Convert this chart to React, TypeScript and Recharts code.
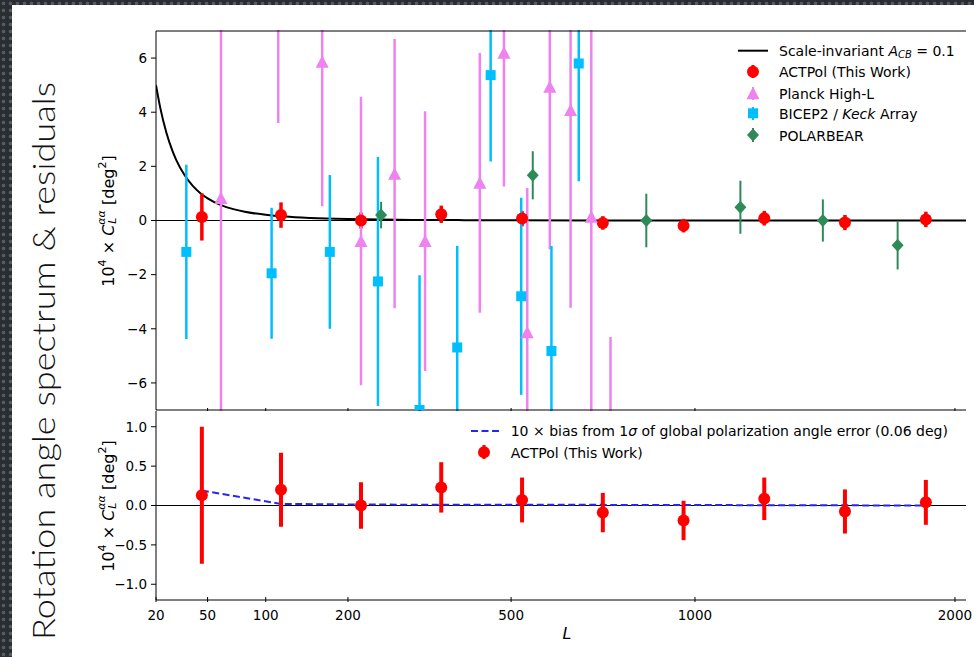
import React from 'react';
import { ComposedChart, Scatter, Line, XAxis, YAxis, ErrorBar, ReferenceLine } from 'recharts';

// ---------- data ----------
const xDomain = [20, 2050];
const xTickValues = [20, 50, 100, 200, 500, 1000, 2000];
const topYTicks = [-6, -4, -2, 0, 2, 4, 6];
const bottomYTicks = [-1, -0.5, 0, 0.5, 1];

const actpolL = [46, 116, 219, 355, 525, 728, 964, 1233, 1535, 1871];
const actpolV = [0.13, 0.2, 0.0, 0.23, 0.07, -0.09, -0.19, 0.085, -0.076, 0.04];
const actpolErr = [0.87, 0.47, 0.295, 0.32, 0.285, 0.25, 0.25, 0.27, 0.28, 0.285];

const planckL = [60, 113, 165, 219, 272, 325, 432, 484, 537, 591, 643, 697, 749];
const planckV = [0.83, 10.0, 5.86, -0.76, 1.73, -0.76, 1.39, 6.2, -4.13, 4.94, 4.08, 0.14, -10.0];
const planckErr = [9.5, 6.4, 5.33, 5.33, 4.97, 4.8, 4.8, 4.94, 5.33, 6.0, 7.3, 9.0, 5.7];

const bicepL = [36, 106, 175, 245, 315, 386, 455, 523, 595, 664];
const bicepV = [-1.16, -1.95, -1.16, -2.25, -7.0, -4.69, 5.37, -2.8, -4.82, 5.8];
const bicepErr = [3.22, 2.42, 2.84, 4.6, 4.98, 3.75, 3.19, 3.64, 3.88, 4.35];

const polarbearL = [250, 550, 851, 1150, 1449, 1750];
const polarbearV = [0.2, 1.67, 0.0, 0.49, 0.0, -0.91];
const polarbearErr = [0.49, 0.89, 0.99, 0.98, 0.78, 0.9];

const curveL = [20, 22, 25, 28, 30, 35, 40, 45, 50, 60, 70, 80, 100, 120, 150, 200, 250, 300, 400, 500, 700, 1000, 1500, 2050];
const curveV = [5.0, 4.15, 3.23, 2.59, 2.26, 1.67, 1.28, 1.01, 0.82, 0.57, 0.42, 0.32, 0.21, 0.145, 0.093, 0.052, 0.033, 0.023, 0.013, 0.008, 0.004, 0.002, 0.001, 0.0005];

const biasV = [0.19, 0.02, 0.012, 0.01, 0.01, 0.008, 0.006, 0.004, 0.002, 0.0];

// ---------- derived tables ----------
const zip = (L: number[], V: number[], E?: number[]) =>
  L.map((l, i) => ({ L: l, v: V[i], e: E ? E[i] : 0 }));
const actpol = zip(actpolL, actpolV, actpolErr);
const planck = zip(planckL, planckV, planckErr);
const bicep = zip(bicepL, bicepV, bicepErr);
const polarbear = zip(polarbearL, polarbearV, polarbearErr);
const curve = zip(curveL, curveV);
const bias = zip(actpolL, biasV);

// ---------- styles ----------
const FONT = '"DejaVu Sans", sans-serif';
const RED = '#ff0000';
const VIOLET = '#ee82ee';
const SKY = '#00bfff';
const GREEN = '#2e8b57';
const BLUE = '#2626f0';

const minus = (v: number) => (v < 0 ? '\u2212' + Math.abs(v) : String(v));
const minus1 = (v: number) => (v < 0 ? '\u2212' + Math.abs(v).toFixed(1) : v.toFixed(1));

// ---------- shapes ----------
const Circle = (color: string, r: number) => (p: any) =>
  p.cx == null ? null : <circle cx={p.cx} cy={p.cy} r={r} fill={color} />;
const Tri = (p: any) =>
  p.cx == null ? null : (
    <polygon points={`${p.cx},${p.cy - 6.5} ${p.cx - 6.5},${p.cy + 6} ${p.cx + 6.5},${p.cy + 6}`} fill={VIOLET} />
  );
const Sq = (p: any) =>
  p.cx == null ? null : <rect x={p.cx - 5} y={p.cy - 5} width={10} height={10} fill={SKY} />;
const Dia = (p: any) =>
  p.cx == null ? null : (
    <polygon points={`${p.cx},${p.cy - 6.5} ${p.cx + 6},${p.cy} ${p.cx},${p.cy + 6.5} ${p.cx - 6},${p.cy}`} fill={GREEN} />
  );

// ---------- ticks ----------
const UpTick = (p: any) => (
  <line x1={p.x} x2={p.x} y1={p.y - 4} y2={p.y} stroke="#000" strokeWidth={1} />
);
const DownTick = (p: any) => (
  <line x1={p.x} x2={p.x} y1={p.y} y2={p.y + 4} stroke="#000" strokeWidth={1} />
);
const BottomTick = (p: any) => (
  <g>
    <line x1={p.x} x2={p.x} y1={p.y} y2={p.y - 5} stroke="#000" strokeWidth={1} />
    <text x={p.x} y={p.y + 18} textAnchor="middle" fontSize={13.5} fontFamily={FONT} fill="#000">
      {p.payload.value}
    </text>
  </g>
);

const tickStyle = { fontSize: 13.5, fontFamily: FONT, fill: '#000' };

const YLabel = ({ cx, cy }: { cx: number; cy: number }) => (
  <text
    x={cx}
    y={cy}
    transform={`rotate(-90 ${cx} ${cy})`}
    textAnchor="middle"
    dominantBaseline="central"
    fontSize={16}
    fontFamily={FONT}
    fill="#000"
  >
    10
    <tspan fontSize={11} dy={-6}>4</tspan>
    <tspan dy={6}> × </tspan>
    <tspan fontStyle="italic">C</tspan>
    <tspan fontStyle="italic" fontSize={11} dy={-7}>αα</tspan>
    <tspan fontStyle="italic" fontSize={11} dx={-13.5} dy={11}>L</tspan>
    <tspan dx={7.5} dy={-4}> [deg</tspan>
    <tspan fontSize={11} dy={-6}>2</tspan>
    <tspan dy={6}>]</tspan>
  </text>
);

export default function App() {
  return (
    <div style={{ position: 'absolute', left: 0, top: 0, width: 974, height: 657, overflow: 'hidden',
      backgroundColor: '#2a2e33',
      backgroundImage: 'radial-gradient(circle, #555a61 1.5px, rgba(0,0,0,0) 2.2px)',
      backgroundSize: '7px 7px' }}>
      <div style={{ position: 'absolute', left: 12, top: 5, width: 962, height: 652, background: '#fff' }} />

      {/* top panel (clipped to its frame vertically) */}
      <div style={{ position: 'absolute', left: 0, top: 30, width: 974, height: 381, overflow: 'hidden' }}>
        <div style={{ position: 'absolute', left: 0, top: -30 }}>
          <ComposedChart width={974} height={420} margin={{ top: 30, right: 8, bottom: 0, left: 0 }}>
            <XAxis xAxisId="x" dataKey="L" type="number" scale="sqrt" domain={xDomain} allowDataOverflow
              ticks={xTickValues.slice(1)} interval={0} height={10} tickSize={0} tickLine={false}
              axisLine={{ stroke: '#000' }} tick={UpTick} />
            <XAxis xAxisId="xt" orientation="top" type="number" scale="sqrt" domain={xDomain} allowDataOverflow
              height={1} tick={false} tickLine={false} axisLine={{ stroke: '#000' }} />
            <YAxis yAxisId="y" width={156} type="number" domain={[-7, 7]} allowDataOverflow ticks={topYTicks}
              interval={0} tickSize={5} tickMargin={4} tick={tickStyle} tickFormatter={minus}
              axisLine={{ stroke: '#000' }} tickLine={{ stroke: '#000' }} />
            <YAxis yAxisId="yr" orientation="right" width={0} type="number" domain={[-7, 7]} allowDataOverflow
              tick={false} tickLine={false} axisLine={{ stroke: '#000' }} />
            <ReferenceLine xAxisId="x" yAxisId="y" y={0} stroke="#000" strokeWidth={1.2} />
            <Line xAxisId="x" yAxisId="y" data={curve} dataKey="v" type="monotone" stroke="#000" strokeWidth={2}
              dot={false} isAnimationActive={false} />
            <Scatter xAxisId="x" yAxisId="y" data={actpol} dataKey="v" shape={Circle(RED, 6)} isAnimationActive={false}>
              <ErrorBar dataKey="e" direction="y" width={0} stroke={RED} strokeWidth={3.5} />
            </Scatter>
            <Scatter xAxisId="x" yAxisId="y" data={planck} dataKey="v" shape={Tri} isAnimationActive={false}>
              <ErrorBar dataKey="e" direction="y" width={0} stroke={VIOLET} strokeWidth={2.5} />
            </Scatter>
            <Scatter xAxisId="x" yAxisId="y" data={bicep} dataKey="v" shape={Sq} isAnimationActive={false}>
              <ErrorBar dataKey="e" direction="y" width={0} stroke={SKY} strokeWidth={2.5} />
            </Scatter>
            <Scatter xAxisId="x" yAxisId="y" data={polarbear} dataKey="v" shape={Dia} isAnimationActive={false}>
              <ErrorBar dataKey="e" direction="y" width={0} stroke={GREEN} strokeWidth={2} />
            </Scatter>
          </ComposedChart>
        </div>
      </div>

      {/* bottom panel */}
      <div style={{ position: 'absolute', left: 0, top: 405 }}>
        <ComposedChart width={974} height={252} margin={{ top: 5, right: 8, bottom: 27, left: 0 }}>
          <XAxis xAxisId="x" dataKey="L" type="number" scale="sqrt" domain={xDomain} allowDataOverflow
            ticks={xTickValues} interval={0} height={30} tickSize={0} tickLine={false}
            axisLine={{ stroke: '#000' }} tick={BottomTick} />
          <XAxis xAxisId="xt" orientation="top" type="number" scale="sqrt" domain={xDomain} allowDataOverflow
            ticks={xTickValues.slice(1)} interval={0} height={1} tickSize={0} tickLine={false}
            axisLine={false} tick={DownTick} />
          <YAxis yAxisId="y" width={156} type="number" domain={[-1.2, 1.2]} allowDataOverflow ticks={bottomYTicks}
            interval={0} tickSize={5} tickMargin={4} tick={tickStyle} tickFormatter={minus1}
            axisLine={{ stroke: '#000' }} tickLine={{ stroke: '#000' }} />
          <YAxis yAxisId="yr" orientation="right" width={0} type="number" domain={[-1.2, 1.2]} allowDataOverflow
            tick={false} tickLine={false} axisLine={{ stroke: '#000' }} />
          <ReferenceLine xAxisId="x" yAxisId="y" y={0} stroke="#000" strokeWidth={1} />
          <Line xAxisId="x" yAxisId="y" data={bias} dataKey="v" type="linear" stroke={BLUE} strokeWidth={2}
            strokeDasharray="7 3.5" dot={false} isAnimationActive={false} />
          <Scatter xAxisId="x" yAxisId="y" data={actpol} dataKey="v" shape={Circle(RED, 6)} isAnimationActive={false}>
            <ErrorBar dataKey="e" direction="y" width={0} stroke={RED} strokeWidth={4} />
          </Scatter>
        </ComposedChart>
      </div>

      {/* texts, labels and legends */}
      <svg width={974} height={657} style={{ position: 'absolute', left: 0, top: 0, pointerEvents: 'none' }}>
        <text x={42} y={361} transform="rotate(-90 42 361)" textAnchor="middle" dominantBaseline="central"
          fontSize={32} fontFamily='Lato, "Noto Sans", sans-serif' fontWeight={300} fill="#111"
          textLength={558} lengthAdjust="spacingAndGlyphs">
          Rotation angle spectrum &amp; residuals
        </text>
        <YLabel cx={108} cy={221} />
        <YLabel cx={108} cy={506} />
        <text x={567} y={639} textAnchor="middle" fontSize={16} fontStyle="italic" fontFamily={FONT} fill="#000">L</text>

        {/* top legend */}
        <g fontFamily={FONT} fontSize={14} fill="#000">
          <line x1={738} x2={768} y1={50.7} y2={50.7} stroke="#000" strokeWidth={2} />
          <text x={779} y={51} dominantBaseline="central">
            Scale-invariant <tspan fontStyle="italic">A</tspan>
            <tspan fontStyle="italic" fontSize={10} dy={3}>CB</tspan>
            <tspan dy={-3}> = 0.1</tspan>
          </text>
          <line x1={753} x2={753} y1={65} y2={78} stroke={RED} strokeWidth={3} />
          <circle cx={753} cy={71.7} r={6} fill={RED} />
          <text x={779} y={72} dominantBaseline="central">ACTPol (This Work)</text>
          <line x1={753} x2={753} y1={87} y2={100} stroke={VIOLET} strokeWidth={2} />
          <polygon points="753,86.8 746.5,99.3 759.5,99.3" fill={VIOLET} />
          <text x={779} y={93.5} dominantBaseline="central">Planck High-L</text>
          <line x1={753} x2={753} y1={107} y2={120} stroke={SKY} strokeWidth={2} />
          <rect x={748} y={108.3} width={10} height={10} fill={SKY} />
          <text x={779} y={113.8} dominantBaseline="central">
            BICEP2 / <tspan fontStyle="italic">Keck</tspan> Array
          </text>
          <line x1={753} x2={753} y1={128} y2={142} stroke={GREEN} strokeWidth={2} />
          <polygon points="753,128.5 759,135 753,141.5 747,135" fill={GREEN} />
          <text x={779} y={135.5} dominantBaseline="central">POLARBEAR</text>
        </g>

        {/* bottom legend */}
        <g fontFamily={FONT} fontSize={14} fill="#000">
          <line x1={471} x2={499} y1={431} y2={431} stroke={BLUE} strokeWidth={2} strokeDasharray="7 3.5" />
          <text x={510.7} y={431} dominantBaseline="central">
            10 ×  bias from 1<tspan fontStyle="italic">σ</tspan> of global polarization angle error (0.06 deg)
          </text>
          <line x1={484} x2={484} y1={445} y2={459} stroke={RED} strokeWidth={3} />
          <circle cx={484} cy={452.3} r={6} fill={RED} />
          <text x={510.7} y={452.5} dominantBaseline="central">ACTPol (This Work)</text>
        </g>
      </svg>
    </div>
  );
}
